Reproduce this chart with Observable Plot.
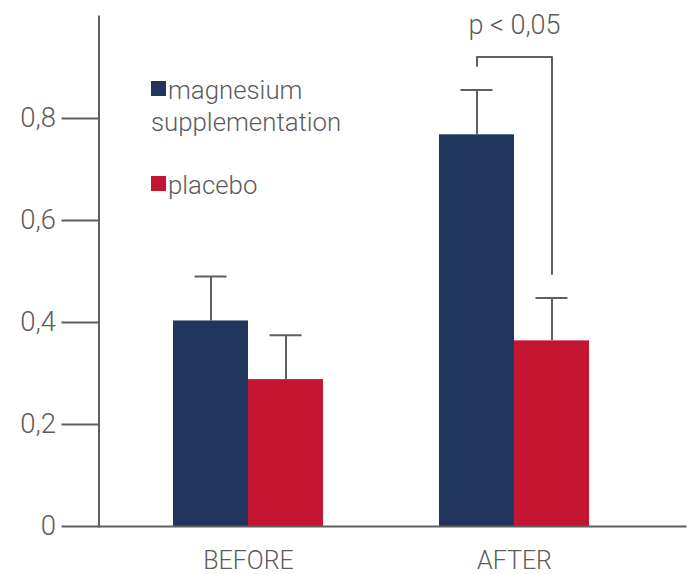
<!DOCTYPE html>
<html>
<head>
<meta charset="utf-8">
<script src="https://cdn.jsdelivr.net/npm/d3@7"></script>
<script src="https://cdn.jsdelivr.net/npm/@observablehq/plot@0.6"></script>
<style>
  body { margin: 0; background: #fff; }
  #wrap { position: relative; width: 688px; height: 574px; font-family: Roboto, "Liberation Sans", sans-serif; font-weight: 300; color: #5c5c5c; }
  #wrap svg { position: absolute; left: 0; top: 0; }
  #legend { position: absolute; left: 151px; top: 75px; font-size: 25.8px; line-height: 31.7px; }
  .item { width: 210px; }
  .item + .item { margin-top: 31.7px; }
  .sw { display: inline-block; width: 15px; height: 15px; margin: 0 2px 2.7px 0; }
</style>
</head>
<body>
<div id="wrap"><div id="legend"></div></div>
<script>
// ---- data ----
const periods = ["BEFORE", "AFTER"];
const groups = ["magnesium supplementation", "placebo"];
const colors = ["#1f355e", "#c41632"];
const magnesiumMeans = [0.403, 0.768];
const magnesiumErrors = [0.087, 0.088];
const placeboMeans = [0.288, 0.364];
const placeboErrors = [0.087, 0.084];
const yTicks = [0, 0.2, 0.4, 0.6, 0.8];
const pLabel = "p < 0,05";
const pLabelY = 0.965;
const bracketGroups = ["magnesium supplementation", "magnesium supplementation", "placebo", "placebo"];
const bracketY = [0.903, 0.9205, 0.9205, 0.495];

// ---- tables ----
const rows = periods.flatMap((p, i) => [
  {period: p, group: groups[0], value: magnesiumMeans[i], err: magnesiumErrors[i]},
  {period: p, group: groups[1], value: placeboMeans[i], err: placeboErrors[i]}
]);
const bracket = bracketGroups.map((g, i) => ({period: "AFTER", group: g, y: bracketY[i]}));

const ink = "#5f5f5f";
const fmt = d => d === 0 ? "0" : d3.format(".1f")(d).replace(".", ",");
// the facets are centred on the bar pairs; the axis line sits at the plot's left margin
const axisShift = -16.5;

const chart = Plot.plot({
  width: 688,
  height: 574,
  marginLeft: 98,
  marginRight: 0,
  marginTop: 16,
  marginBottom: 48,
  style: {fontFamily: "Roboto, 'Liberation Sans', sans-serif", fontWeight: 300, color: "#5c5c5c", background: "transparent", overflow: "visible"},
  fx: {domain: periods, paddingInner: 0, paddingOuter: 0.1049, align: 0.2946, label: null},
  x: {domain: groups, paddingInner: 0, paddingOuter: 0.7566, align: 0.5, axis: null},
  y: {domain: [0, 1], axis: null},
  color: {domain: groups, range: colors},
  marks: [
    Plot.barY(rows, {fx: "period", x: "group", y: "value", fill: "group"}),
    Plot.ruleX(rows, {fx: "period", x: "group", y1: "value", y2: d => d.value + d.err, stroke: ink, strokeWidth: 2}),
    Plot.tickY(rows, {fx: "period", x: "group", y: d => d.value + d.err, inset: 21.5, stroke: ink, strokeWidth: 2}),
    Plot.line(bracket, {fx: "period", x: "group", y: "y", stroke: ink, strokeWidth: 2}),
    Plot.text([pLabel], {fx: ["AFTER"], y: [pLabelY], text: d => d, lineAnchor: "bottom", fontSize: 27, fill: "#5c5c5c"}),
    Plot.ruleY([0], {facetAnchor: "left", insetLeft: axisShift, stroke: ink, strokeWidth: 2}),
    Plot.ruleY([0], {facetAnchor: "right", insetRight: -39.5, stroke: ink, strokeWidth: 2}),
    Plot.frame({anchor: "left", facetAnchor: "left", dx: axisShift, stroke: ink, strokeWidth: 2}),
    Plot.axisY(yTicks, {anchor: "left", dx: axisShift, tickSize: 37, tickPadding: 6, tickFormat: fmt, fontSize: 27.5, stroke: ink, strokeWidth: 2, label: null}),
    Plot.axisFx({anchor: "bottom", tickSize: 0, tickPadding: 25, fontSize: 25, label: null})
  ]
});
document.getElementById("wrap").prepend(chart);

// legend (HTML, overlaid in the plot area)
const legend = d3.select("#legend");
groups.forEach((g, i) => {
  const item = legend.append("div").attr("class", "item");
  item.append("span").attr("class", "sw").style("background", colors[i]);
  item.append("span").text(g);
});
</script>
</body>
</html>
